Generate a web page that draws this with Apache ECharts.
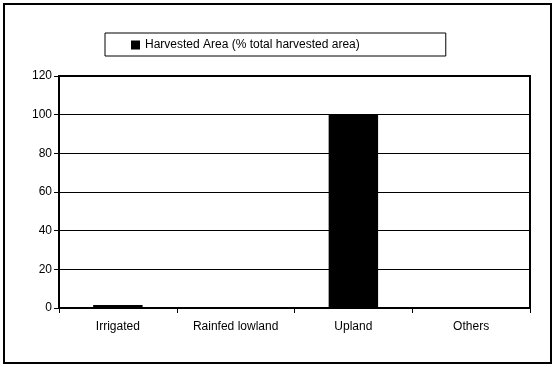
<!DOCTYPE html>
<html><head><meta charset="utf-8">
<script src="https://cdn.jsdelivr.net/npm/echarts@6/dist/echarts.min.js"></script>
<style>html,body{margin:0;padding:0;background:#fff}#c{width:556px;height:367px}</style>
</head><body><div id="c"></div>
<script>
const categories = ["Irrigated", "Rainfed lowland", "Upland", "Others"];
const seriesName = "Harvested Area (% total harvested area)";
const values = [1.5, 0, 100, 0];
const yTicks = [0, 20, 40, 60, 80, 100, 120];

const chart = echarts.init(document.getElementById('c'), null, {renderer: 'canvas'});
const font = 'Liberation Sans, Arial, sans-serif';
chart.setOption({
  animation: false,
  backgroundColor: '#fff',
  graphic: [{
    type: 'rect', shape: {x: 4, y: 4, width: 547, height: 359},
    style: {fill: 'none', stroke: '#000', lineWidth: 2}, silent: true
  }],
  legend: {
    show: true, left: 105, top: 33,
    padding: [6, 86, 5, 26],
    borderColor: '#000', borderWidth: 1, borderRadius: 0,
    itemWidth: 9, itemHeight: 9, itemGap: 5,
    icon: 'rect',
    textStyle: {fontFamily: font, fontSize: 12, color: '#000'},
    data: [seriesName]
  },
  grid: {left: 59, right: 26, top: 76, bottom: 59, show: true, borderColor: '#000', borderWidth: 2, containLabel: false},
  xAxis: {
    type: 'category', data: categories, boundaryGap: true,
    axisLine: {lineStyle: {color: '#000', width: 2}},
    axisTick: {show: true, length: 5, lineStyle: {color: '#000', width: 1}},
    axisLabel: {color: '#000', fontFamily: font, fontSize: 12, margin: 13}
  },
  yAxis: {
    type: 'value', min: yTicks[0], max: yTicks[yTicks.length - 1], interval: 20,
    axisLine: {show: true, lineStyle: {color: '#000', width: 2}},
    axisTick: {show: true, length: 5, lineStyle: {color: '#000', width: 1}},
    axisLabel: {color: '#000', fontFamily: font, fontSize: 12, margin: 7},
    splitLine: {show: true, lineStyle: {color: '#000', width: 1}}
  },
  series: [{
    name: seriesName, type: 'bar', data: values,
    barWidth: '42%',
    itemStyle: {color: '#000'}
  }]
});
</script></body></html>
